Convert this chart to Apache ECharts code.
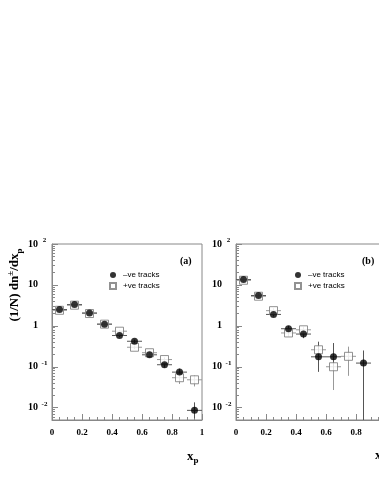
<!DOCTYPE html>
<html>
<head>
<meta charset="utf-8">
<script src="https://cdn.jsdelivr.net/npm/echarts@6/dist/echarts.min.js"></script>
<style>
  html, body { margin: 0; padding: 0; background: #fff; }
  #main { width: 379px; height: 491px; }
</style>
</head>
<body>
<div id="main"></div>
<script>
// bin centres and half width
var binHalf = 0.05;

// panel (a)
var xNegA = [0.05, 0.15, 0.25, 0.35, 0.45, 0.55, 0.65, 0.75, 0.85, 0.95];
var negA   = [2.5, 3.3, 2.07, 1.1, 0.58, 0.42, 0.196, 0.112, 0.074, 0.0086];
var negALo = [2.35, 3.1, 1.95, 1.03, 0.53, 0.38, 0.17, 0.095, 0.06, 0.0055];
var negAHi = [2.65, 3.5, 2.2, 1.17, 0.64, 0.46, 0.23, 0.13, 0.09, 0.0135];
var xPosA = [0.05, 0.15, 0.25, 0.35, 0.45, 0.55, 0.65, 0.75, 0.85, 0.95];
var posA   = [2.4, 3.2, 2.0, 1.1, 0.74, 0.30, 0.22, 0.15, 0.054, 0.048];
var posALo = [2.25, 3.0, 1.88, 1.03, 0.68, 0.27, 0.19, 0.13, 0.038, 0.033];
var posAHi = [2.55, 3.4, 2.12, 1.17, 0.8, 0.33, 0.25, 0.17, 0.068, 0.061];

// panel (b)
var xNegB = [0.05, 0.15, 0.25, 0.35, 0.45, 0.55, 0.65, 0.85];
var negB   = [13.5, 5.5, 1.9, 0.85, 0.63, 0.175, 0.175, 0.123];
var negBLo = [12.5, 5.0, 1.7, 0.7, 0.5, 0.075, 0.08, 0.001];
var negBHi = [14.5, 6.0, 2.1, 1.0, 0.78, 0.41, 0.38, 0.25];
var xPosB = [0.05, 0.15, 0.25, 0.35, 0.45, 0.55, 0.65, 0.75];
var posB   = [13, 5.3, 2.35, 0.67, 0.8, 0.26, 0.10, 0.18];
var posBLo = [12, 4.8, 2.0, 0.55, 0.65, 0.17, 0.027, 0.06];
var posBHi = [14, 5.8, 2.7, 0.8, 0.95, 0.4, 0.36, 0.31];

var negName = '\u2013ve tracks';
var posName = '+ve tracks';

function pts(xs, ys) { return xs.map(function (x, i) { return [x, ys[i]]; }); }
function errs(xs, ys, lo, hi) { return xs.map(function (x, i) { return [x, ys[i], lo[i], hi[i]]; }); }

function errRender(color) {
  return function (params, api) {
    var x = api.value(0), y = api.value(1), lo = api.value(2), hi = api.value(3);
    var pl = api.coord([x - binHalf, y]), pr = api.coord([x + binHalf, y]);
    var pt = api.coord([x, hi]), pb = api.coord([x, lo]);
    var st = { stroke: color, lineWidth: 1 };
    return {
      type: 'group',
      children: [
        { type: 'line', shape: { x1: pl[0], y1: pl[1], x2: pr[0], y2: pr[1] }, style: st },
        { type: 'line', shape: { x1: pt[0], y1: pt[1], x2: pb[0], y2: pb[1] }, style: st }
      ]
    };
  };
}

var serif = 'Liberation Serif';
var axisCol = '#888';

function xAxisFor(idx) {
  return {
    type: 'value', gridIndex: idx, min: 0, max: 1, interval: 0.2,
    axisLine: { show: true, onZero: false, lineStyle: { color: axisCol } },
    axisTick: { inside: true, length: 6, lineStyle: { color: axisCol } },
    minorTick: { show: true, splitNumber: 4, length: 3, lineStyle: { color: axisCol } },
    splitLine: { show: false },
    axisLabel: {
      margin: 8, color: '#000', fontFamily: serif, fontWeight: 'bold', fontSize: 9,
      formatter: function (v) { return String(+v.toFixed(1)); }
    }
  };
}

function yAxisFor(idx) {
  return {
    type: 'log', gridIndex: idx, min: 0.005, max: 100, logBase: 10,
    axisLine: { show: true, lineStyle: { color: axisCol } },
    axisTick: { inside: true, length: 6, lineStyle: { color: axisCol } },
    minorTick: { show: true, splitNumber: 9, length: 3, lineStyle: { color: axisCol } },
    splitLine: { show: false },
    axisLabel: {
      margin: 3, showMinLabel: false,
      formatter: function (v) {
        var e = Math.round(Math.log10(v));
        if (e === 0) return '{b|1}{s|\u00a0}';
        if (e === 1) return '{b|10}{s|\u00a0}';
        return '{b|10}{s|' + e + '}';
      },
      rich: {
        b: { fontFamily: serif, fontWeight: 'bold', fontSize: 10, color: '#000', lineHeight: 14 },
        s: { fontFamily: serif, fontWeight: 'bold', fontSize: 7, color: '#000', width: 9,
             align: 'left', verticalAlign: 'top', lineHeight: 8, padding: [0, 0, 0, 2] }
      }
    }
  };
}

function legendFor(left) {
  return {
    orient: 'vertical', left: left, top: 271, padding: 0, itemGap: 3, itemWidth: 6, itemHeight: 6,
    selectedMode: false,
    data: [{ name: negName, icon: 'circle' }, { name: posName, icon: 'rect' }],
    textStyle: { fontFamily: 'Liberation Sans', fontSize: 8, color: '#000', padding: [0, 0, 0, 2] }
  };
}

function seriesFor(idx, xn, yn, ln, hn, xp, yp, lp, hp) {
  return [
    { type: 'custom', xAxisIndex: idx, yAxisIndex: idx, clip: true, silent: true,
      renderItem: errRender('#999'), data: errs(xp, yp, lp, hp), z: 1 },
    { type: 'custom', xAxisIndex: idx, yAxisIndex: idx, clip: true, silent: true,
      renderItem: errRender('#555'), data: errs(xn, yn, ln, hn), z: 1 },
    { name: posName, type: 'scatter', xAxisIndex: idx, yAxisIndex: idx, symbol: 'rect', symbolSize: 8,
      itemStyle: { color: '#fff', borderColor: '#777', borderWidth: 1 }, data: pts(xp, yp), z: 2 },
    { name: negName, type: 'scatter', xAxisIndex: idx, yAxisIndex: idx, symbol: 'circle', symbolSize: 7,
      itemStyle: { color: '#000' }, data: pts(xn, yn), z: 3 }
  ];
}

var chart = echarts.init(document.getElementById('main'), null, { renderer: 'canvas' });
chart.setOption({
  animation: false,
  backgroundColor: '#fff',
  grid: [
    { left: 52, top: 244, width: 150, height: 176, show: true, borderColor: axisCol, borderWidth: 1,
      outerBoundsMode: 'none', containLabel: false },
    { left: 236, top: 244, width: 150, height: 176, show: true, borderColor: axisCol, borderWidth: 1,
      outerBoundsMode: 'none', containLabel: false }
  ],
  xAxis: [xAxisFor(0), xAxisFor(1)],
  yAxis: [yAxisFor(0), yAxisFor(1)],
  legend: [legendFor(109), legendFor(294)],
  title: [
    { text: '(a)', left: 180, top: 256, padding: 0, textStyle: { fontFamily: serif, fontWeight: 'bold', fontSize: 10, color: '#000' } },
    { text: '(b)', left: 362, top: 256, padding: 0, textStyle: { fontFamily: serif, fontWeight: 'bold', fontSize: 10, color: '#000' } }
  ],
  graphic: [
    { type: 'text', x: 15, y: 285, rotation: Math.PI / 2,
      style: {
        text: '{a|(1/N) dn}{u|\u00b1}{a|/dx}{d|p}', align: 'center', verticalAlign: 'middle',
        rich: {
          a: { fontFamily: serif, fontWeight: 'bold', fontSize: 13, fill: '#000', lineHeight: 18 },
          u: { fontFamily: serif, fontWeight: 'bold', fontSize: 9, fill: '#000', verticalAlign: 'top', lineHeight: 10 },
          d: { fontFamily: serif, fontWeight: 'bold', fontSize: 9, fill: '#000', verticalAlign: 'bottom', lineHeight: 10 }
        }
      } },
    { type: 'text', x: 187, y: 449,
      style: {
        text: '{a|x}{d|p}',
        rich: {
          a: { fontFamily: serif, fontWeight: 'bold', fontSize: 13, fill: '#000', lineHeight: 16 },
          d: { fontFamily: serif, fontWeight: 'bold', fontSize: 9, fill: '#000', verticalAlign: 'bottom', lineHeight: 10 }
        }
      } },
    { type: 'text', x: 375, y: 449,
      style: { text: 'x', fontFamily: serif, fontWeight: 'bold', fontSize: 13, fill: '#000' } }
  ],
  series: []
    .concat(seriesFor(0, xNegA, negA, negALo, negAHi, xPosA, posA, posALo, posAHi))
    .concat(seriesFor(1, xNegB, negB, negBLo, negBHi, xPosB, posB, posBLo, posBHi))
});
</script>
</body>
</html>
